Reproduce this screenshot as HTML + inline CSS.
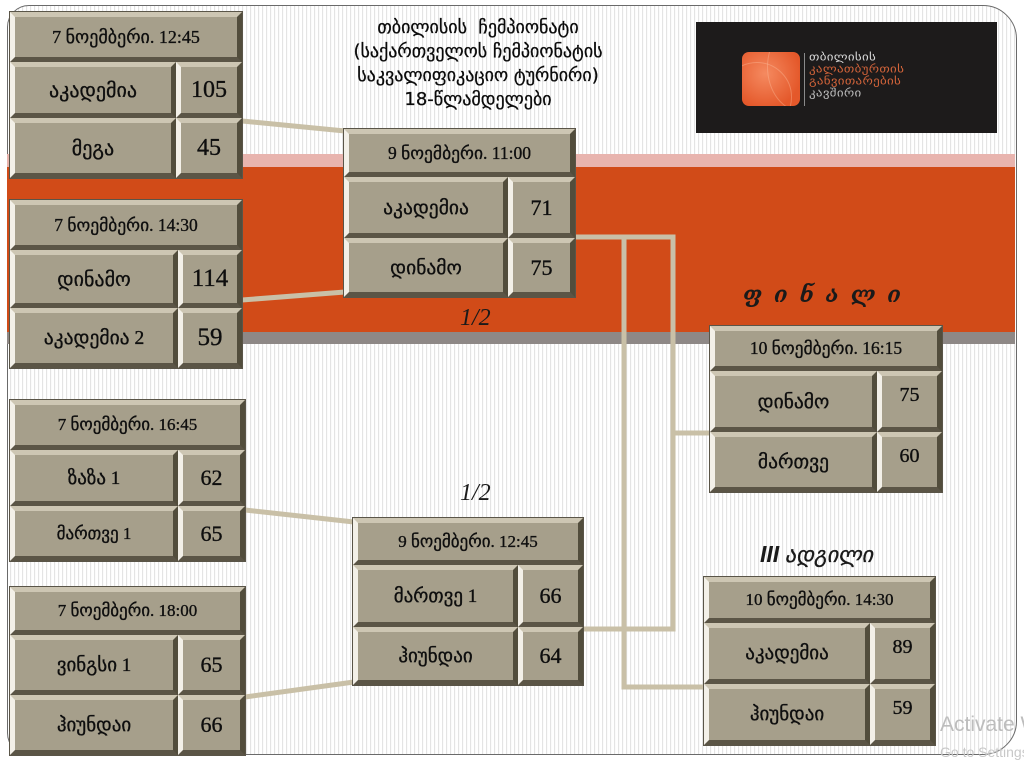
<!DOCTYPE html>
<html><head><meta charset="utf-8">
<style>
*{margin:0;padding:0;box-sizing:border-box}
html,body{width:1024px;height:762px;overflow:hidden;background:#fff}
#pg{position:relative;width:1024px;height:762px;overflow:hidden;background:#fff}
.frame{position:absolute;left:7px;top:5px;width:1010px;height:750px;border:1.5px solid #6a6a6a;border-radius:22px 34px 34px 22px;
 background:repeating-linear-gradient(90deg,#ffffff 0px,#ffffff 2px,#e4e4e4 2px,#e4e4e4 3px,#fbfbfb 3px,#fbfbfb 4px)}
.band{position:absolute;left:7px;width:1008px}
.bx{position:absolute;background:#4f4a3f;outline:1px solid #5a5548}
.c{position:absolute;border:5px solid;border-color:#cdc6b3 #524d3c #5b5546 #f3f0e8;background:#a69f8b;
 display:flex;align-items:center;justify-content:center;color:#0e0e0e;-webkit-text-stroke:0.35px #111;
 font-family:"Liberation Serif","DejaVu Sans",serif;white-space:nowrap}
.t{position:absolute;font-family:"Liberation Serif","DejaVu Sans",serif;color:#1a1a1a;white-space:nowrap}
.title{position:absolute;left:320px;width:316px;top:16px;text-align:center;font-family:"DejaVu Sans",sans-serif;font-size:18px;line-height:24px;color:#0a0a0a;-webkit-text-stroke:0.3px #111}
.logo{position:absolute;left:696px;top:22px;width:301px;height:111px;background:#1d1b1b}
.lt{position:absolute;left:113px;font-family:"DejaVu Sans",sans-serif;font-size:13px;line-height:12px;white-space:nowrap;letter-spacing:0.3px;transform:scaleY(0.85);transform-origin:left top}
</style></head><body><div id="pg">
<div class="frame"></div>
<div class="band" style="top:154px;height:13px;background:#e8b4ae"></div>
<div class="band" style="top:167px;height:165px;background:#d14b18"></div>
<div class="band" style="top:332px;height:12px;background:#8e8886"></div>

<div class="title">თბილისის&nbsp; ჩემპიონატი<br>(საქართველოს ჩემპიონატის<br>საკვალიფიკაციო ტურნირი)<br>18-წლამდელები</div>

<div class="logo">
 <div style="position:absolute;left:46px;top:30px;width:58px;height:54px;border-radius:7px;background:radial-gradient(circle at 40% 40%,#f58a60,#e4582a 75%);overflow:hidden">
  <div style="position:absolute;left:-20px;top:10px;width:70px;height:70px;border-radius:50%;border:1px solid rgba(255,200,170,0.35)"></div>
  <div style="position:absolute;left:25px;top:-30px;width:70px;height:90px;border-radius:50%;border:1px solid rgba(255,200,170,0.35)"></div>
 </div>
 <div style="position:absolute;left:108px;top:31px;width:1px;height:53px;background:#8a8a8a"></div>
 <div class="lt" style="top:31px;color:#d8d8d8">თბილისის</div>
 <div class="lt" style="top:43px;color:#d3643a">კალათბურთის</div>
 <div class="lt" style="top:55px;color:#d3643a">განვითარების</div>
 <div class="lt" style="top:67px;color:#bdbdbd">კავშირი</div>
</div>

<svg width="1024" height="762" style="position:absolute;left:0;top:0" fill="none" stroke="#c9c0a7" stroke-width="5">
 <line x1="242" y1="121" x2="345" y2="131"/>
 <line x1="242" y1="300" x2="345" y2="292"/>
 <line x1="245" y1="510" x2="354" y2="522"/>
 <line x1="245" y1="697" x2="354" y2="682"/>
 <polyline points="575,237 673,237 673,629 583,629"/>
 <line x1="673" y1="433" x2="711" y2="433"/>
 <polyline points="624,237 624,687 705,687"/>
</svg>

<!-- Box A -->
<div class="bx" style="left:10px;top:12px;width:232px;height:166px">
 <div class="c" style="left:0;top:0;width:232px;height:50px;font-size:18px">7 ნოემბერი. 12:45</div>
 <div class="c" style="left:0;top:50px;width:166px;height:56px;font-size:20px">აკადემია</div>
 <div class="c" style="left:166px;top:50px;width:66px;height:56px;font-size:24px">105</div>
 <div class="c" style="left:0;top:106px;width:166px;height:60px;font-size:20px">მეგა</div>
 <div class="c" style="left:166px;top:106px;width:66px;height:60px;font-size:24px">45</div>
</div>
<!-- Box B -->
<div class="bx" style="left:10px;top:200px;width:232px;height:168px">
 <div class="c" style="left:0;top:0;width:232px;height:50px;font-size:17.5px">7 ნოემბერი. 14:30</div>
 <div class="c" style="left:0;top:50px;width:168px;height:58px;font-size:20px">დინამო</div>
 <div class="c" style="left:168px;top:50px;width:64px;height:58px;font-size:25px">114</div>
 <div class="c" style="left:0;top:108px;width:168px;height:60px;font-size:19.5px">აკადემია 2</div>
 <div class="c" style="left:168px;top:108px;width:64px;height:60px;font-size:25px">59</div>
</div>
<!-- Box C -->
<div class="bx" style="left:344px;top:129px;width:231px;height:168px">
 <div class="c" style="left:0;top:0;width:231px;height:48px;font-size:17.5px">9 ნოემბერი. 11:00</div>
 <div class="c" style="left:0;top:48px;width:164px;height:61px;font-size:19.5px">აკადემია</div>
 <div class="c" style="left:164px;top:48px;width:67px;height:61px;font-size:22px">71</div>
 <div class="c" style="left:0;top:109px;width:164px;height:59px;font-size:19.5px">დინამო</div>
 <div class="c" style="left:164px;top:109px;width:67px;height:59px;font-size:22px">75</div>
</div>
<!-- Box D -->
<div class="bx" style="left:10px;top:400px;width:235px;height:161px">
 <div class="c" style="left:0;top:0;width:235px;height:50px;font-size:17px">7 ნოემბერი. 16:45</div>
 <div class="c" style="left:0;top:50px;width:168px;height:56px;font-size:19px">ზაზა 1</div>
 <div class="c" style="left:168px;top:50px;width:67px;height:56px;font-size:22px">62</div>
 <div class="c" style="left:0;top:106px;width:168px;height:55px;font-size:17px">მართვე 1</div>
 <div class="c" style="left:168px;top:106px;width:67px;height:55px;font-size:22px">65</div>
</div>
<!-- Box E -->
<div class="bx" style="left:10px;top:587px;width:235px;height:168px">
 <div class="c" style="left:0;top:0;width:235px;height:48px;font-size:17px">7 ნოემბერი. 18:00</div>
 <div class="c" style="left:0;top:48px;width:168px;height:60px;font-size:19px">ვინგსი 1</div>
 <div class="c" style="left:168px;top:48px;width:67px;height:60px;font-size:22px">65</div>
 <div class="c" style="left:0;top:108px;width:168px;height:60px;font-size:19px">ჰიუნდაი</div>
 <div class="c" style="left:168px;top:108px;width:67px;height:60px;font-size:22px">66</div>
</div>
<!-- Box F -->
<div class="bx" style="left:353px;top:518px;width:230px;height:167px">
 <div class="c" style="left:0;top:0;width:230px;height:47px;font-size:17px">9 ნოემბერი. 12:45</div>
 <div class="c" style="left:0;top:47px;width:165px;height:62px;font-size:19px">მართვე 1</div>
 <div class="c" style="left:165px;top:47px;width:65px;height:62px;font-size:22px">66</div>
 <div class="c" style="left:0;top:109px;width:165px;height:58px;font-size:19px">ჰიუნდაი</div>
 <div class="c" style="left:165px;top:109px;width:65px;height:58px;font-size:22px">64</div>
</div>
<!-- Box G -->
<div class="bx" style="left:710px;top:326px;width:232px;height:166px">
 <div class="c" style="left:0;top:0;width:232px;height:45px;font-size:17.5px">10 ნოემბერი. 16:15</div>
 <div class="c" style="left:0;top:45px;width:167px;height:61px;font-size:19.5px">დინამო</div>
 <div class="c" style="left:167px;top:45px;width:65px;height:61px;font-size:20px;align-items:flex-start;padding-top:8px">75</div>
 <div class="c" style="left:0;top:106px;width:167px;height:60px;font-size:19.5px">მართვე</div>
 <div class="c" style="left:167px;top:106px;width:65px;height:60px;font-size:20px;align-items:flex-start;padding-top:8px">60</div>
</div>
<!-- Box H -->
<div class="bx" style="left:704px;top:577px;width:231px;height:168px">
 <div class="c" style="left:0;top:0;width:231px;height:46px;font-size:17px">10 ნოემბერი. 14:30</div>
 <div class="c" style="left:0;top:46px;width:166px;height:61px;font-size:19px">აკადემია</div>
 <div class="c" style="left:166px;top:46px;width:65px;height:61px;font-size:20px;align-items:flex-start;padding-top:8px">89</div>
 <div class="c" style="left:0;top:107px;width:166px;height:61px;font-size:19px">ჰიუნდაი</div>
 <div class="c" style="left:166px;top:107px;width:65px;height:61px;font-size:20px;align-items:flex-start;padding-top:8px">59</div>
</div>

<div class="t" style="left:460px;top:305px;font-size:24px;font-style:italic">1/2</div>
<div class="t" style="left:460px;top:480px;font-size:24px;font-style:italic">1/2</div>
<div class="t" style="left:743px;top:282px;font-size:22px;font-style:italic;font-weight:bold;letter-spacing:12px;font-family:'DejaVu Serif','DejaVu Sans',serif">ფინალი</div>
<div class="t" style="left:760px;top:541px;font-size:23px;font-style:italic"><span style="font-family:'Liberation Sans',sans-serif;font-weight:bold">III</span> <span style="font-family:'DejaVu Sans',sans-serif;font-size:22px;-webkit-text-stroke:0.3px #111">ადგილი</span></div>

<div style="position:absolute;left:940px;top:713px;font-family:'Liberation Sans',sans-serif;font-size:21px;color:#bdbdbd;white-space:nowrap">Activate Windows</div>
<div style="position:absolute;left:940px;top:744px;font-family:'Liberation Sans',sans-serif;font-size:14px;color:#c8c8c8;white-space:nowrap">Go to Settings</div>
</div></body></html>
